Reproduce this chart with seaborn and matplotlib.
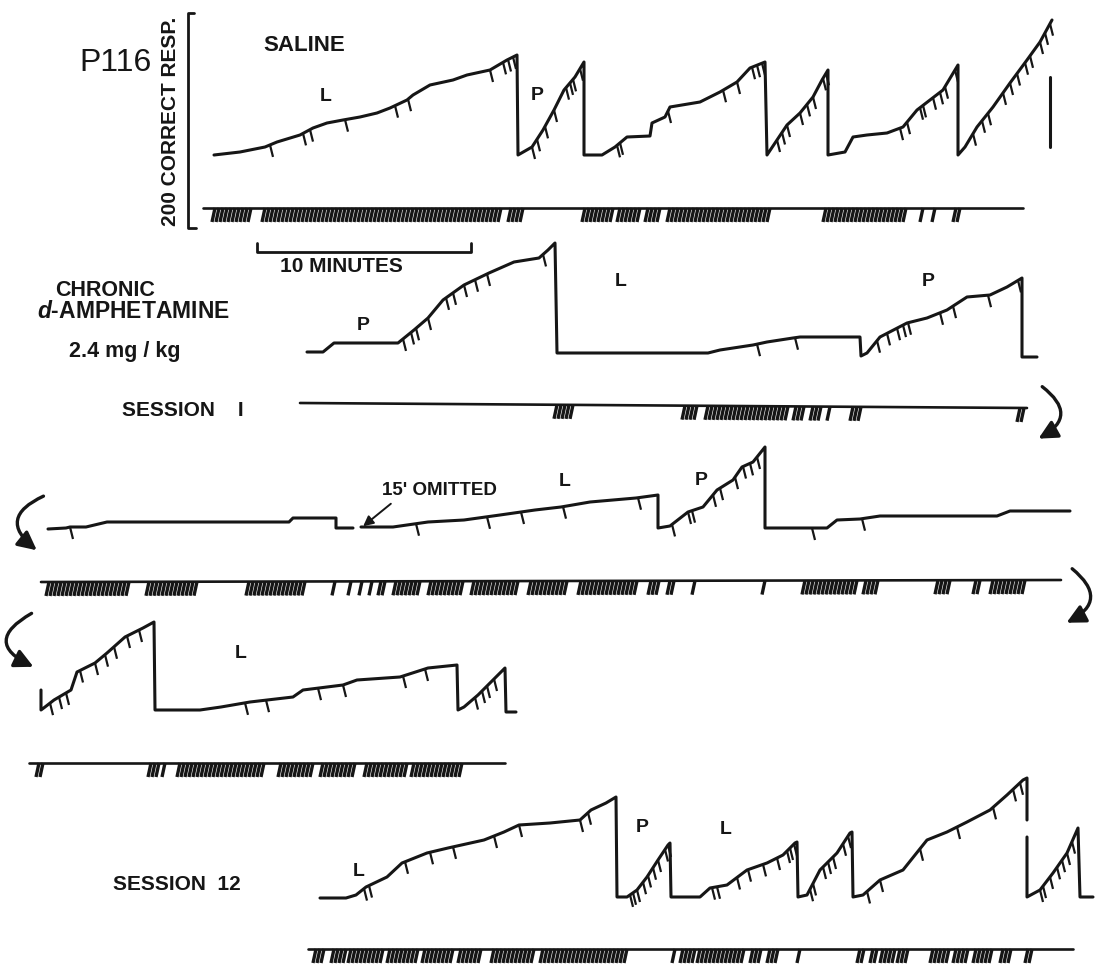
import numpy as np
import pandas as pd
import matplotlib.pyplot as plt
import seaborn as sns
from matplotlib.collections import LineCollection
from matplotlib.patches import FancyArrowPatch

# Plot settings
sns.set_theme(style="white")
plt.rcParams['font.family'] = ['Liberation Sans', 'DejaVu Sans']
plt.rcParams['mathtext.fontset'] = 'custom'
plt.rcParams['mathtext.it'] = 'Liberation Sans:italic:bold'
INK = '#161616'

# ---- cumulative records (pen position on the chart paper) ----
# saline session
sal_x = [214, 240, 265, 277, 300, 313, 327, 343, 360, 377, 390, 407, 413, 430, 453, 467, 490, 507, 517,
         518, 532, 543, 554, 564, 575, 584,
         584, 602, 615, 627, 650, 652, 665, 670, 700, 720, 737, 750, 765,
         767, 775, 787, 800, 813, 822, 828,
         828, 845, 853, 867, 887, 903, 917, 930, 943, 958,
         958, 965, 977, 993, 1010, 1027, 1040, 1052]
sal_y = [155, 152, 147, 142, 135, 128, 123, 120, 117, 113, 108, 100, 95, 85, 80, 75, 70, 60, 55,
         155, 147, 130, 110, 90, 77, 62,
         155, 155, 147, 137, 136, 123, 117, 107, 102, 92, 82, 68, 62,
         155, 143, 125, 113, 97, 80, 70,
         155, 152, 137, 135, 133, 127, 110, 100, 90, 65,
         155, 147, 127, 107, 83, 60, 42, 20]
sal_reset_x = [1050, 1050]
sal_reset_y = [77, 147]
sal_pips = [270, 303, 310, 345, 395, 408, 490, 503, 508, 513, 532, 537, 545, 554, 566, 570, 573, 580,
            617, 620, 668, 723, 737, 752, 757, 762, 777, 782, 787, 800, 807, 813, 823, 826,
            900, 907, 920, 923, 933, 940, 945, 955, 973, 982, 988, 1003, 1010, 1017, 1025, 1030,
            1040, 1045, 1050]

# amphetamine session 1, first line
s1a_x = [307, 323, 334, 398, 414, 428, 443, 464, 489, 514, 539, 548, 555,
         557, 708, 720, 753, 767, 793, 800, 860,
         861, 867, 880, 907, 927, 947, 967, 990, 1007, 1022, 1022, 1037]
s1a_y = [352, 352, 343, 343, 330, 318, 300, 285, 273, 262, 258, 250, 243,
         353, 353, 350, 345, 342, 338, 337, 337,
         356, 353, 337, 323, 318, 310, 297, 295, 287, 278, 357, 357]
s1a_pips = [403, 411, 416, 428, 446, 453, 464, 475, 487, 543, 757, 795,
            877, 887, 897, 903, 908, 940, 953, 988, 1018]

# session 1, second line (15 min omitted between the two parts)
s1b_x1 = [48, 66, 70, 86, 107, 289, 293, 336, 336, 353]
s1b_y1 = [529, 528, 527, 527, 522, 522, 518, 518, 528, 528]
s1b_x2 = [361, 393, 428, 464, 500, 535, 561, 590, 636, 658,
          658, 670, 688, 703, 717, 733, 742, 753, 765,
          765, 827, 837, 860, 880, 997, 1010, 1070]
s1b_y2 = [527, 527, 522, 520, 515, 510, 507, 502, 498, 495,
          528, 526, 512, 507, 490, 480, 467, 462, 447,
          528, 528, 520, 519, 516, 516, 511, 511]
s1b_pips = [70, 416, 487, 521, 563, 638, 672, 688, 692, 713, 720, 735, 743, 750, 757, 812, 862]

# session 1, third line
s1c_x = [41, 41, 45, 54, 71, 77, 95, 107, 125, 143, 154,
         155, 200, 221, 250, 293, 303, 343, 357, 400, 428, 457,
         458, 464, 478, 493, 505, 506, 516]
s1c_y = [690, 710, 707, 700, 690, 672, 663, 653, 637, 628, 622,
         710, 710, 707, 702, 697, 690, 685, 680, 677, 668, 665,
         710, 707, 695, 680, 668, 712, 712]
s1c_pips = [50, 59, 66, 80, 95, 105, 114, 127, 139, 245, 266, 318, 343, 403, 425, 475, 482, 487, 494]

# session 12
s12_x1 = [320, 346, 356, 366, 387, 402, 427, 448, 484, 504, 519, 550, 580, 591, 606, 616,
          617, 627, 637, 647, 658, 668, 670,
          671, 700, 710, 727, 747, 767, 783, 795, 797,
          798, 807, 820, 837, 850, 852,
          853, 863, 880, 903, 927, 947, 967, 990, 1007, 1023, 1027, 1027]
s12_y1 = [898, 898, 895, 887, 877, 863, 853, 848, 840, 832, 825, 823, 820, 810, 803, 797,
          897, 897, 890, 877, 860, 845, 843,
          897, 897, 888, 885, 870, 863, 855, 843, 842,
          897, 895, 870, 853, 833, 832,
          897, 895, 880, 870, 840, 832, 822, 810, 795, 780, 778, 820]
s12_x2 = [1027, 1027, 1040, 1053, 1067, 1078, 1080, 1093]
s12_y2 = [837, 897, 890, 873, 853, 828, 897, 897]
s12_pips = [364, 369, 405, 430, 453, 494, 519, 580, 588, 630, 633, 637, 643, 648, 653, 658, 665, 668,
            712, 717, 737, 748, 763, 777, 787, 790, 794, 810, 813, 823, 828, 833, 843, 848,
            867, 880, 920, 957, 993, 1013, 1020, 1040, 1043, 1050, 1057, 1062, 1067, 1072]

# ---- event pen lines: (x start, x end), (y start, y end), marked stretches ----
evt_rows = {
    'saline': ([203, 1023], [208, 208],
               [(212, 252), (262, 503), (508, 525), (582, 613), (617, 640), (645, 663), (667, 770),
                (823, 908), (920, 925), (932, 937), (953, 960)]),
    's1a': ([300, 1027], [403, 408],
            [(554, 576), (682, 697), (705, 790), (793, 807), (810, 823), (827, 833), (850, 863),
             (1017, 1027)]),
    's1b': ([41, 1061], [582, 580],
            [(46, 132), (146, 200), (246, 305), (332, 337), (348, 353), (359, 364), (369, 375),
             (378, 385), (393, 421), (428, 464), (471, 521), (528, 567), (578, 637), (648, 660),
             (667, 675), (692, 698), (762, 768), (802, 860), (863, 878), (935, 952), (973, 980),
             (990, 1027)]),
    's1c': ([29, 505], [763, 763],
            [(36, 45), (148, 159), (162, 168), (177, 264), (278, 314), (320, 355), (364, 407),
             (411, 464)]),
    's12': ([308, 1073], [949, 949],
            [(313, 326), (331, 346), (348, 384), (387, 420), (422, 456), (458, 484), (491, 535),
             (540, 627), (672, 677), (680, 695), (697, 747), (750, 763), (767, 780), (797, 802),
             (857, 867), (870, 877), (880, 895), (897, 910), (930, 950), (953, 970), (973, 993),
             (1000, 1013), (1025, 1032)]),
}

# record segment labels
segment_labels = [('L', 326, 96), ('P', 537, 95),
                  ('P', 363, 326), ('L', 621, 282), ('P', 928, 281),
                  ('L', 565, 481), ('P', 701, 480),
                  ('L', 241, 653),
                  ('L', 359, 872), ('P', 642, 828), ('L', 726, 830)]

# Create figure and axis
fig = plt.figure(figsize=(11, 9.69), dpi=100)
ax = fig.add_axes([0, 0, 1, 1])


def draw_line(xs, ys, lw=2.0):
    df = pd.DataFrame({'x': xs, 'y': ys})
    sns.lineplot(data=df, x='x', y='y', sort=False, estimator=None,
                 color=INK, linewidth=lw, ax=ax, legend=False)


def y_on(segs, x0):
    for xs, ys in segs:
        for i in range(len(xs) - 1):
            a, b = xs[i], xs[i + 1]
            if a < b and a <= x0 <= b:
                return ys[i] + (ys[i + 1] - ys[i]) * (x0 - a) / (b - a)
    return None


def draw_pips(segs, pips):
    lines = []
    for px in pips:
        py = y_on(segs, px)
        if py is not None:
            lines.append([(px, py), (px + 3, py + 12)])
    ax.add_collection(LineCollection(lines, colors=INK, linewidths=1.6))


records = {
    'saline': [(sal_x, sal_y), (sal_reset_x, sal_reset_y)],
    's1a': [(s1a_x, s1a_y)],
    's1b': [(s1b_x1, s1b_y1), (s1b_x2, s1b_y2)],
    's1c': [(s1c_x, s1c_y)],
    's12': [(s12_x1, s12_y1), (s12_x2, s12_y2)],
}
pips = {'saline': sal_pips, 's1a': s1a_pips, 's1b': s1b_pips, 's1c': s1c_pips, 's12': s12_pips}

for key, segs in records.items():
    for xs, ys in segs:
        draw_line(xs, ys, lw=2.2)
    draw_pips(segs, pips[key])

# event pen
for key, (ex, ey, groups) in evt_rows.items():
    draw_line(ex, ey, lw=1.9)
    strokes = []
    for a, b in groups:
        for hx in np.arange(a + 3, b + 0.1, 4.0):
            hy = np.interp(hx, ex, ey)
            strokes.append([(hx, hy), (hx - 3, hy + 14)])
    ax.add_collection(LineCollection(strokes, colors=INK, linewidths=2.4))

# response scale bracket and time bar
draw_line([194, 188, 188, 196], [13, 13, 228, 228], lw=2.0)
draw_line([257, 257, 471, 471], [243, 252, 252, 243], lw=2.0)

# curved continuation arrows
arrows = [((1040, 385), (1036, 440), -0.8),
          ((46, 495), (39, 552), 0.85),
          ((1070, 567), (1064, 624), -0.8),
          ((34, 612), (36, 668), 1.0)]
for a, b, r in arrows:
    ax.add_patch(FancyArrowPatch(a, b, connectionstyle=f"arc3,rad={r}",
                                 arrowstyle='-|>,head_length=0.8,head_width=0.4',
                                 mutation_scale=14, lw=2.4, color=INK))
ax.add_patch(FancyArrowPatch((393, 502), (361, 528), arrowstyle='-|>,head_length=0.6,head_width=0.3',
                             mutation_scale=10, lw=1.4, color=INK))

# Texts
ax.text(116, 63, 'P116', fontsize=23, ha='center', va='center', color=INK)
ax.text(171, 121, '200 CORRECT RESP.', fontsize=15, fontweight='bold', rotation=90,
        ha='center', va='center', color=INK)
ax.text(304, 45, 'SALINE', fontsize=16, fontweight='bold', ha='center', va='center', color=INK)
ax.text(341, 267, '10 MINUTES', fontsize=15, fontweight='bold', ha='center', va='center', color=INK)
ax.text(105, 290, 'CHRONIC', fontsize=15.5, fontweight='bold', ha='center', va='center', color=INK)
ax.text(133, 312, r'$\it{d}$-AMPHETAMINE', fontsize=16.5, fontweight='bold',
        ha='center', va='center', color=INK)
ax.text(125, 351, '2.4 mg / kg', fontsize=15.5, fontweight='bold', ha='center', va='center', color=INK)
ax.text(183, 411, 'SESSION    I', fontsize=15, fontweight='bold', ha='center', va='center', color=INK)
ax.text(439, 490, "15' OMITTED", fontsize=13.5, fontweight='bold', ha='center', va='center', color=INK)
ax.text(177, 885, 'SESSION  12', fontsize=15, fontweight='bold', ha='center', va='center', color=INK)
for s, x, y in segment_labels:
    ax.text(x, y, s, fontsize=14, fontweight='bold', ha='center', va='center', color=INK)

ax.set_xlim(0, 1100)
ax.set_ylim(969, 0)
ax.axis('off')

plt.savefig("out.png", dpi=100, facecolor='white')
